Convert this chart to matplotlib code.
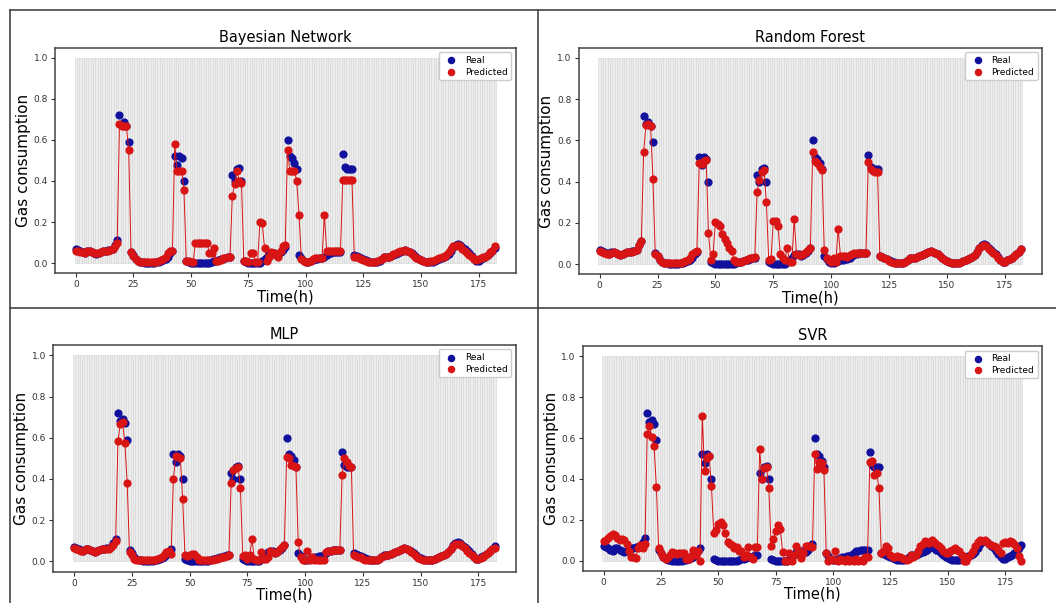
import matplotlib
matplotlib.use("Agg")
import matplotlib.pyplot as plt
import numpy as np
from matplotlib.lines import Line2D

# hourly time index
hours = np.arange(183)

real = [
    0.07, 0.065, 0.06, 0.055, 0.05, 0.06, 0.06, 0.055, 0.05, 0.045,
    0.05, 0.055, 0.06, 0.06, 0.065, 0.065, 0.07, 0.09, 0.11, 0.72,
    0.68, 0.69, 0.67, 0.59, 0.055, 0.04, 0.02, 0.01, 0.005, 0.005,
    0.0, 0.0, 0.0, 0.0, 0.0, 0.005, 0.005, 0.01, 0.015, 0.02,
    0.03, 0.05, 0.06, 0.52, 0.48, 0.52, 0.51, 0.40, 0.01, 0.005,
    0.0, 0.0, 0.0, 0.0, 0.0, 0.0, 0.0, 0.0, 0.0, 0.005,
    0.01, 0.01, 0.015, 0.02, 0.02, 0.025, 0.03, 0.03, 0.43, 0.40,
    0.46, 0.465, 0.40, 0.01, 0.005, 0.0, 0.0, 0.0, 0.0, 0.0,
    0.0, 0.01, 0.02, 0.03, 0.045, 0.05, 0.05, 0.04, 0.045, 0.055,
    0.065, 0.08, 0.60, 0.52, 0.51, 0.49, 0.46, 0.04, 0.025, 0.01,
    0.005, 0.005, 0.01, 0.015, 0.02, 0.02, 0.025, 0.025, 0.03, 0.04,
    0.05, 0.05, 0.055, 0.055, 0.055, 0.055, 0.53, 0.47, 0.46, 0.46,
    0.46, 0.04, 0.035, 0.03, 0.025, 0.02, 0.015, 0.01, 0.005, 0.005,
    0.005, 0.005, 0.01, 0.02, 0.03, 0.03, 0.03, 0.035, 0.04, 0.045,
    0.05, 0.055, 0.06, 0.065, 0.06, 0.055, 0.05, 0.04, 0.03, 0.02,
    0.015, 0.01, 0.005, 0.005, 0.005, 0.005, 0.01, 0.015, 0.02, 0.025,
    0.03, 0.035, 0.045, 0.06, 0.08, 0.09, 0.095, 0.09, 0.08, 0.07,
    0.06, 0.05, 0.035, 0.02, 0.01, 0.01, 0.02, 0.025, 0.03, 0.04,
    0.05, 0.06, 0.075,
]

pred_bn = [
    0.06, 0.06, 0.055, 0.055, 0.05, 0.06, 0.06, 0.055, 0.05, 0.05,
    0.05, 0.055, 0.06, 0.06, 0.06, 0.065, 0.07, 0.085, 0.10, 0.68,
    0.67, 0.67, 0.67, 0.55, 0.055, 0.035, 0.02, 0.01, 0.005, 0.005,
    0.005, 0.005, 0.005, 0.005, 0.005, 0.005, 0.01, 0.015, 0.02, 0.03,
    0.05, 0.06, 0.06, 0.58, 0.45, 0.45, 0.45, 0.355, 0.01, 0.01,
    0.005, 0.005, 0.1, 0.1, 0.1, 0.1, 0.1, 0.1, 0.05, 0.05,
    0.075, 0.01, 0.01, 0.015, 0.025, 0.025, 0.03, 0.03, 0.325, 0.385,
    0.45, 0.40, 0.39, 0.01, 0.01, 0.005, 0.05, 0.05, 0.005, 0.005,
    0.20, 0.195, 0.075, 0.01, 0.03, 0.055, 0.05, 0.04, 0.03, 0.06,
    0.085, 0.09, 0.55, 0.45, 0.45, 0.45, 0.40, 0.235, 0.02, 0.01,
    0.005, 0.005, 0.01, 0.02, 0.025, 0.025, 0.025, 0.025, 0.235, 0.06,
    0.06, 0.06, 0.06, 0.06, 0.06, 0.06, 0.405, 0.405, 0.405, 0.405,
    0.405, 0.03, 0.03, 0.025, 0.02, 0.015, 0.01, 0.005, 0.005, 0.005,
    0.005, 0.01, 0.015, 0.02, 0.03, 0.03, 0.03, 0.035, 0.045, 0.05,
    0.055, 0.06, 0.06, 0.065, 0.06, 0.055, 0.045, 0.035, 0.025, 0.02,
    0.015, 0.01, 0.005, 0.005, 0.01, 0.01, 0.015, 0.02, 0.025, 0.03,
    0.03, 0.04, 0.055, 0.07, 0.085, 0.085, 0.09, 0.085, 0.07, 0.06,
    0.05, 0.04, 0.03, 0.02, 0.015, 0.02, 0.025, 0.03, 0.03, 0.04,
    0.055, 0.06, 0.085,
]

pred_rf = [
    0.065, 0.06, 0.055, 0.05, 0.05, 0.055, 0.06, 0.055, 0.05, 0.045,
    0.05, 0.055, 0.06, 0.06, 0.06, 0.065, 0.07, 0.09, 0.11, 0.545,
    0.675, 0.68, 0.67, 0.415, 0.05, 0.04, 0.02, 0.01, 0.005, 0.005,
    0.005, 0.005, 0.005, 0.005, 0.005, 0.005, 0.01, 0.015, 0.02, 0.03,
    0.05, 0.06, 0.065, 0.49, 0.485, 0.50, 0.505, 0.15, 0.02, 0.05,
    0.205, 0.195, 0.185, 0.145, 0.12, 0.10, 0.08, 0.065, 0.02, 0.01,
    0.01, 0.01, 0.015, 0.02, 0.025, 0.03, 0.03, 0.035, 0.35, 0.41,
    0.445, 0.455, 0.30, 0.02, 0.025, 0.21, 0.21, 0.185, 0.05, 0.03,
    0.02, 0.08, 0.01, 0.01, 0.22, 0.05, 0.045, 0.045, 0.05, 0.06,
    0.07, 0.08, 0.545, 0.50, 0.49, 0.47, 0.455, 0.07, 0.03, 0.02,
    0.01, 0.03, 0.01, 0.17, 0.04, 0.04, 0.04, 0.035, 0.045, 0.05,
    0.055, 0.055, 0.055, 0.055, 0.055, 0.055, 0.495, 0.46, 0.45, 0.445,
    0.445, 0.04, 0.035, 0.03, 0.025, 0.015, 0.01, 0.005, 0.005, 0.005,
    0.005, 0.005, 0.01, 0.02, 0.03, 0.03, 0.03, 0.035, 0.04, 0.045,
    0.05, 0.055, 0.06, 0.065, 0.06, 0.055, 0.05, 0.04, 0.03, 0.02,
    0.015, 0.01, 0.005, 0.005, 0.005, 0.005, 0.01, 0.015, 0.02, 0.025,
    0.03, 0.035, 0.045, 0.06, 0.08, 0.085, 0.09, 0.085, 0.075, 0.065,
    0.055, 0.045, 0.03, 0.02, 0.01, 0.01, 0.02, 0.025, 0.03, 0.04,
    0.05, 0.06, 0.075,
]

pred_mlp = [
    0.065, 0.06, 0.055, 0.05, 0.05, 0.06, 0.06, 0.055, 0.05, 0.045,
    0.05, 0.055, 0.06, 0.06, 0.06, 0.06, 0.07, 0.08, 0.10, 0.585,
    0.665, 0.675, 0.575, 0.38, 0.045, 0.03, 0.01, 0.005, 0.005, 0.005,
    0.005, 0.005, 0.005, 0.005, 0.005, 0.005, 0.01, 0.015, 0.02, 0.03,
    0.045, 0.05, 0.035, 0.40, 0.51, 0.505, 0.50, 0.305, 0.03, 0.025,
    0.03, 0.035, 0.035, 0.02, 0.005, 0.005, 0.005, 0.005, 0.005, 0.005,
    0.005, 0.01, 0.01, 0.015, 0.02, 0.02, 0.025, 0.03, 0.38, 0.445,
    0.455, 0.46, 0.355, 0.025, 0.03, 0.01, 0.03, 0.11, 0.01, 0.005,
    0.005, 0.045, 0.01, 0.01, 0.02, 0.05, 0.045, 0.04, 0.045, 0.06,
    0.07, 0.08, 0.505, 0.50, 0.47, 0.465, 0.46, 0.095, 0.02, 0.005,
    0.005, 0.05, 0.005, 0.02, 0.005, 0.005, 0.005, 0.005, 0.005, 0.045,
    0.05, 0.05, 0.055, 0.055, 0.055, 0.055, 0.42, 0.50, 0.48, 0.465,
    0.46, 0.03, 0.025, 0.02, 0.02, 0.01, 0.005, 0.005, 0.005, 0.005,
    0.005, 0.005, 0.01, 0.02, 0.025, 0.03, 0.03, 0.035, 0.04, 0.045,
    0.05, 0.055, 0.06, 0.065, 0.06, 0.055, 0.045, 0.035, 0.025, 0.015,
    0.01, 0.005, 0.005, 0.005, 0.005, 0.005, 0.01, 0.015, 0.02, 0.025,
    0.03, 0.035, 0.045, 0.06, 0.075, 0.085, 0.085, 0.085, 0.075, 0.065,
    0.05, 0.04, 0.03, 0.02, 0.01, 0.01, 0.015, 0.02, 0.03, 0.04,
    0.05, 0.06, 0.065,
]

pred_svr = [
    0.095, 0.10, 0.11, 0.12, 0.13, 0.125, 0.11, 0.10, 0.105, 0.10,
    0.08, 0.05, 0.02, 0.02, 0.015, 0.06, 0.075, 0.06, 0.08, 0.62,
    0.66, 0.605, 0.56, 0.36, 0.06, 0.04, 0.02, 0.01, 0.02, 0.03,
    0.045, 0.04, 0.035, 0.04, 0.04, 0.04, 0.01, 0.01, 0.025, 0.055,
    0.03, 0.05, 0.0, 0.71, 0.44, 0.50, 0.51, 0.365, 0.135, 0.15,
    0.18, 0.19, 0.175, 0.135, 0.09, 0.08, 0.075, 0.06, 0.065, 0.05,
    0.05, 0.02, 0.03, 0.065, 0.02, 0.01, 0.065, 0.065, 0.545, 0.40,
    0.455, 0.46, 0.355, 0.07, 0.105, 0.145, 0.175, 0.155, 0.045, 0.0,
    0.0, 0.04, 0.0, 0.03, 0.07, 0.05, 0.015, 0.04, 0.07, 0.07,
    0.07, 0.065, 0.52, 0.45, 0.485, 0.48, 0.445, 0.04, 0.0, 0.01,
    0.005, 0.05, 0.0, 0.01, 0.005, 0.0, 0.01, 0.0, 0.005, 0.0,
    0.01, 0.0, 0.005, 0.0, 0.02, 0.02, 0.485, 0.49, 0.42, 0.43,
    0.355, 0.04, 0.05, 0.07, 0.06, 0.03, 0.02, 0.02, 0.025, 0.02,
    0.015, 0.01, 0.005, 0.01, 0.03, 0.02, 0.03, 0.05, 0.07, 0.08,
    0.095, 0.09, 0.085, 0.10, 0.09, 0.08, 0.07, 0.06, 0.05, 0.04,
    0.04, 0.05, 0.055, 0.06, 0.055, 0.05, 0.03, 0.0, 0.0, 0.02,
    0.035, 0.05, 0.07, 0.09, 0.10, 0.095, 0.10, 0.09, 0.08, 0.075,
    0.07, 0.065, 0.055, 0.04, 0.085, 0.09, 0.085, 0.095, 0.09, 0.08,
    0.06, 0.025, 0.0,
]

titles = ["Bayesian Network", "Random Forest", "MLP", "SVR"]
preds = [pred_bn, pred_rf, pred_mlp, pred_svr]

# axes boxes in figure fractions (left, bottom, width, height)
boxes = [
    [0.0519, 0.5468, 0.4364, 0.3741],
    [0.5479, 0.5451, 0.4390, 0.3758],
    [0.0502, 0.0519, 0.4381, 0.3760],
    [0.5518, 0.0531, 0.4351, 0.3731],
]

blue = "#10109c"
red = "#d81414"

fig = plt.figure(figsize=(10.56, 6.03), dpi=100)

for title, pred, box in zip(titles, preds, boxes):
    ax = fig.add_axes(box)
    ax.bar(hours, np.ones(len(hours)), width=1.0, color="#ededed",
           edgecolor="#d6d6d6", linewidth=0.4, zorder=1)
    ax.scatter(hours, real, s=24, color=blue, label="Real", zorder=3)
    ax.plot(hours, pred, color=red, lw=0.7, zorder=4)
    ax.scatter(hours, pred, s=24, color=red, label="Predicted", zorder=5)
    ax.set_ylim(-0.05, 1.05)
    ax.set_xlim(-9.1, 191.1)
    ax.set_title(title, fontsize=10.5, pad=4)
    ax.set_xlabel("Time(h)", fontsize=10.5, labelpad=0)
    ax.set_ylabel("Gas consumption", fontsize=11, labelpad=2)
    ax.tick_params(labelsize=6.5, length=3, pad=2, color="#333333",
                   labelcolor="#333333")
    for sp in ax.spines.values():
        sp.set_color("#444444")
        sp.set_linewidth(1.1)
    ax.legend(loc="upper right", fontsize=6.5, handletextpad=0.5,
              borderpad=0.4, labelspacing=0.3, framealpha=1,
              edgecolor="#cccccc", markerscale=0.9)

# panel frames
frame = dict(color="#444444", lw=1.2, transform=fig.transFigure)
fig.add_artist(Line2D([9.6 / 1056, 9.6 / 1056], [0, 1 - 10 / 603], **frame))
fig.add_artist(Line2D([9.6 / 1056, 1], [1 - 10 / 603, 1 - 10 / 603], **frame))
fig.add_artist(Line2D([537.7 / 1056, 537.7 / 1056], [0, 1 - 10 / 603], **frame))
fig.add_artist(Line2D([9.6 / 1056, 1], [1 - 308 / 603, 1 - 308 / 603], **frame))

fig.savefig("out.png", dpi=100)
